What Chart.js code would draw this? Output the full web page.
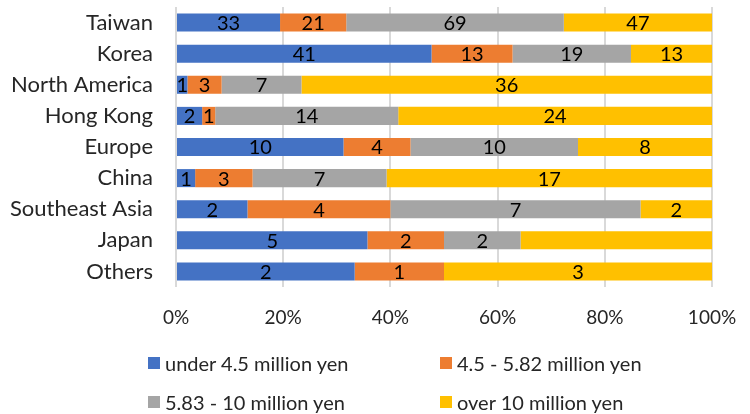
<!DOCTYPE html>
<html>
<head>
<meta charset="utf-8">
<script src="https://cdn.jsdelivr.net/npm/chart.js@4.4.0/dist/chart.umd.min.js"></script>
<style>
  body { margin: 0; background: #fff; }
  #wrap { position: relative; width: 750px; height: 414px; }
  #legend { position: absolute; left: 0; top: 0; font-family: Lato, sans-serif; font-size: 20px; color: #262626; }
  .item { position: absolute; display: flex; align-items: center; white-space: nowrap; }
  .box { width: 12px; height: 12px; margin-right: 5px; }
</style>
</head>
<body>
<div id="wrap">
  <canvas id="incomeChart" width="750" height="414"></canvas>
  <div id="legend"></div>
</div>
<script>
const regions = ['Taiwan', 'Korea', 'North America', 'Hong Kong', 'Europe', 'China', 'Southeast Asia', 'Japan', 'Others'];
const bands = ['under 4.5 million yen', '4.5 - 5.82 million yen', '5.83 - 10 million yen', 'over 10 million yen'];
const colors = ['#4472C4', '#ED7D31', '#A5A5A5', '#FFC000'];

// respondent counts per income band
const under45 = [33, 41, 1, 2, 10, 1, 2, 5, 2];
const from45 = [21, 13, 3, 1, 4, 3, 4, 2, 1];
const from583 = [69, 19, 7, 14, 10, 7, 7, 2, 0];
const over10 = [47, 13, 36, 24, 8, 17, 2, 5, 3];
const xTicks = [0, 20, 40, 60, 80, 100];

// segments that carry no number label
const unlabeled = [[3, 7]];

const counts = [under45, from45, from583, over10];
const totals = regions.map((r, i) => counts.reduce((s, c) => s + c[i], 0));

var ctx = document.querySelector('#incomeChart').getContext('2d');
const FONT = 'Lato, sans-serif';

const segmentLabels = {
  id: 'segmentLabels',
  afterDatasetsDraw(chart) {
    const c = chart.ctx;
    c.save();
    c.font = '20px ' + FONT;
    c.fillStyle = '#000';
    c.textAlign = 'center';
    c.textBaseline = 'middle';
    chart.data.datasets.forEach((ds, d) => {
      chart.getDatasetMeta(d).data.forEach((bar, i) => {
        const v = ds.raw[i];
        if (!v) return;
        if (unlabeled.some(u => u[0] === d && u[1] === i)) return;
        const x = (bar.x + bar.base) / 2;
        c.fillText(String(v), x, bar.y + 1);
      });
    });
    c.restore();
  }
};

var chart = new Chart(ctx, {
  type: 'bar',
  data: {
    labels: regions,
    datasets: bands.map((b, d) => ({
      label: b,
      raw: counts[d],
      data: counts[d].map((v, i) => v / totals[i] * 100),
      backgroundColor: colors[d],
      borderWidth: 0,
      barPercentage: 0.58,
      categoryPercentage: 1,
    })),
  },
  options: {
    indexAxis: 'y',
    responsive: false,
    animation: false,
    layout: { padding: { left: 10, right: 38, top: 7, bottom: 82 } },
    plugins: { legend: { display: false }, tooltip: { enabled: false } },
    scales: {
      x: {
        stacked: true,
        min: 0,
        max: 100,
        afterBuildTicks: (s) => { s.ticks = xTicks.map(v => ({ value: v })); },
        afterFit: (s) => { s.height = 45; s.paddingLeft = 0; s.paddingRight = 0; },
        grid: { color: '#D9D9D9', lineWidth: 2, drawTicks: false },
        border: { display: false },
        ticks: {
          padding: 19,
          color: '#262626',
          font: { family: FONT, size: 19 },
          callback: (v) => v + '%',
        },
      },
      y: {
        stacked: true,
        afterFit: (s) => { s.width = 166; s.paddingTop = 0; s.paddingBottom = 0; },
        grid: { display: false },
        border: { display: false },
        ticks: { padding: 15, color: '#262626', font: { family: FONT, size: 22 } },
      },
    },
  },
  plugins: [segmentLabels],
});

// two-column legend under the axis
const slots = [[148, 364], [440, 364], [148, 403], [440, 403]];
const legend = document.getElementById('legend');
chart.data.datasets.forEach((ds, d) => {
  const el = document.createElement('div');
  el.className = 'item';
  el.style.left = slots[d][0] + 'px';
  el.style.top = (slots[d][1] - 13) + 'px';
  el.innerHTML = '<span class="box" style="background:' + ds.backgroundColor + '"></span><span>' + ds.label + '</span>';
  legend.appendChild(el);
});
</script>
</body>
</html>
